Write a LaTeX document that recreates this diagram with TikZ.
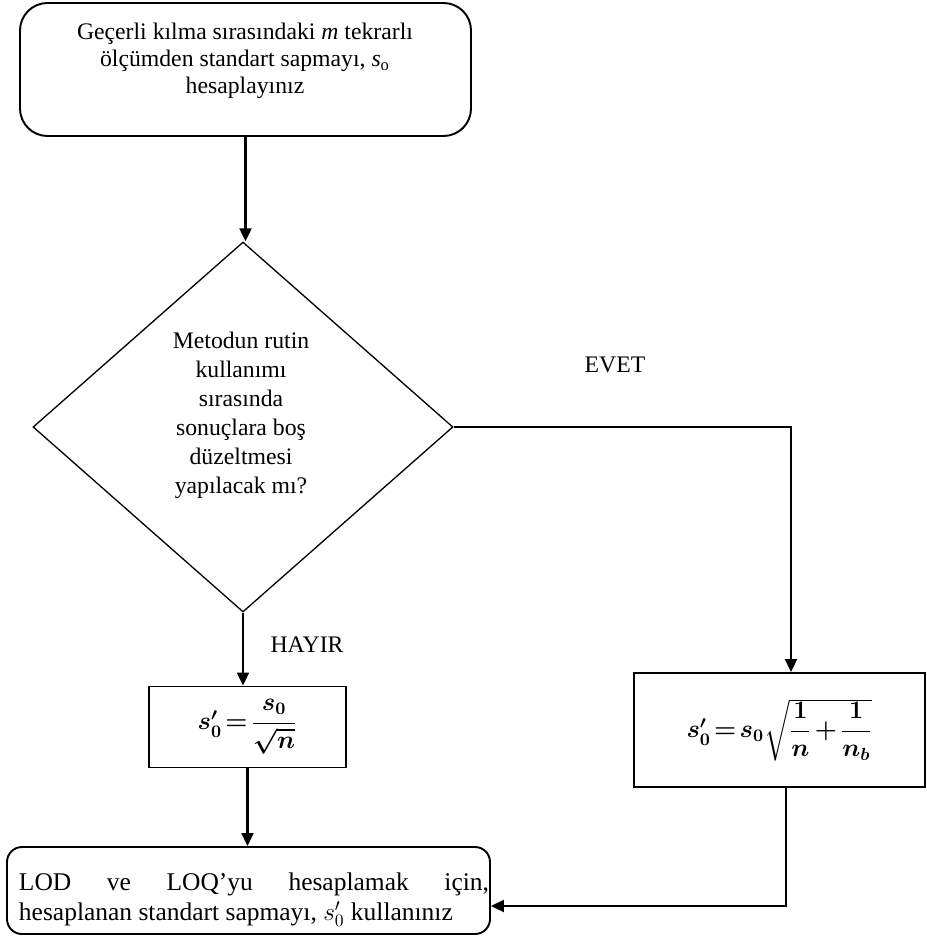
\documentclass[tikz,border=0pt]{standalone}
\usepackage{amsmath}
\usepackage{fontspec}
\setmainfont{Liberation Serif}
\usetikzlibrary{arrows.meta,shapes.geometric,calc}
\newcommand{\calcspacing}{\thickmuskip=2mu\relax\medmuskip=2mu\relax}
\tikzset{
  % ---- boxes -----------------------------------------------------
  roundbox/.style = {draw=black, line width=1.1pt, rounded corners=0.55cm,
                     inner sep=0pt},
  calcbox/.style  = {draw=black, line width=1.1pt, inner sep=0pt,
                     font=\boldmath\fontsize{14}{17}\selectfont},
  decision/.style = {diamond, draw=black, line width=0.75pt, inner sep=0pt},
  % ---- texts -----------------------------------------------------
  txt/.style      = {font=\fontsize{13.5}{15.5}\selectfont, align=center,
                     inner sep=0pt},
  ans/.style      = {font=\fontsize{14.5}{17}\selectfont, inner sep=0pt},
  % ---- connectors ------------------------------------------------
  flow/.style     = {draw=black, line width=1.2pt,
                     -{Triangle[length=2.6mm,width=2.4mm]}},
}
\begin{document}
\begin{tikzpicture}[x=0.2mm,y=-0.2mm]
  \useasboundingbox (0,0) rectangle (926,938);
  \node[roundbox, minimum width=9.02cm, minimum height=2.66cm] (start) at (245.5,69.5) {};
  \node[txt] (starttext) at (245,61) {Geçerli kılma sırasındaki \textit{m} tekrarlı\\ölçümden standart sapmayı, \textit{s}\textsubscript{o}\\hesaplayınız};
  \node[decision, minimum width=8.4cm, minimum height=7.4cm] (dec) at (243,427) {};
  \node[txt, font=\fontsize{13.5}{16.5}\selectfont] (dectext) at (241,415) {Metodun rutin\\kullanımı\\sırasında\\sonuçlara boş\\düzeltmesi\\yapılacak mı?};
  \node[calcbox, minimum width=3.94cm, minimum height=1.62cm] (nobox) at (247.5,727) {$\calcspacing s_0' = \dfrac{s_0}{\sqrt{n}}$};
  \node[calcbox, minimum width=5.82cm, minimum height=2.28cm] (yesbox) at (779.5,730) {$\calcspacing s_0' = s_0\sqrt{\dfrac{1}{n}+\dfrac{1}{n_b}}$};
  \node[roundbox, rounded corners=0.3cm, minimum width=9.66cm, minimum height=1.74cm] (end) at (248.5,890.5) {};
  \node[ans, text width=9.4cm, align=justify] (endtext) at (254,900) {LOD ve LOQ’yu hesaplamak için,\linebreak hesaplanan standart sapmayı, $s_0'$ kullanınız};
  \node[txt] (yeslab) at (615,365) {EVET};
  \node[txt] (nolab) at (307,645) {HAYIR};
  % connectors
  \coordinate (yesturn) at (791,427);
  \coordinate (merge) at (786,906);
  \draw[flow] (start.south) -- (start.south |- dec.north);
  \draw[flow] (dec.east) -- (yesturn) -- (yesturn |- yesbox.north);
  \draw[flow] (dec.south) -- (dec.south |- nobox.north);
  \draw[flow] (nobox.south) -- (nobox.south |- end.north);
  \draw[flow] (yesbox.south -| merge) -- (merge) -- (merge -| end.east);
\end{tikzpicture}
\end{document}
